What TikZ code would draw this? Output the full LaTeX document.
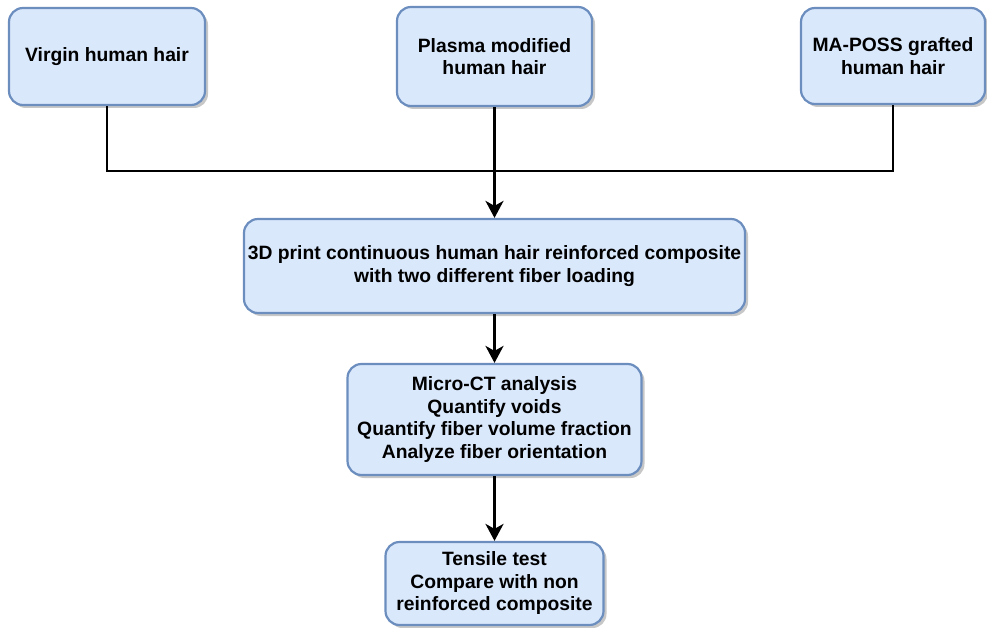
\documentclass[tikz,border=0pt]{standalone}
\usepackage{fontspec}
\setmainfont{Liberation Sans}
\usetikzlibrary{arrows.meta,shadows}

\definecolor{boxfill}{HTML}{DAE8FC}
\definecolor{boxline}{HTML}{6C8EBF}

\tikzset{
  stepbox/.style={
    draw=boxline, fill=boxfill, line width=2.2pt,
    rounded corners=14pt, align=center, inner sep=0pt,
    font=\fontsize{19.3}{22.5}\selectfont\bfseries,
    drop shadow={shadow xshift=3pt, shadow yshift=-3pt,
                 fill=black, opacity=0.22}
  },
  link/.style={draw=black, line width=2.6pt},
  flow/.style={link, -{Stealth[length=17pt,width=18pt,inset=5pt]}}
}

\begin{document}
\begin{tikzpicture}[x=1pt,y=-1pt]
  \useasboundingbox (0,0) rectangle (987,628);

  % the three hair treatments
  \node[stepbox, minimum width=196pt, minimum height=97pt]
    (virgin) at (107,56.5) {Virgin human hair};
  \node[stepbox, minimum width=195pt, minimum height=99pt]
    (plasma) at (494.5,56.5) {Plasma modified\\human hair};
  \node[stepbox, minimum width=184pt, minimum height=96pt]
    (poss) at (893,56) {MA-POSS grafted\\human hair};

  % processing and testing steps
  \node[stepbox, minimum width=501pt, minimum height=94pt]
    (print) at (494.5,266) {3D print continuous human hair reinforced composite\\with two different fiber loading};
  \node[stepbox, minimum width=294pt, minimum height=111pt]
    (ct) at (494.5,419.5) {Micro-CT analysis\\Quantify voids\\Quantify fiber volume fraction\\Analyze fiber orientation};
  \node[stepbox, minimum width=218pt, minimum height=83pt]
    (tensile) at (494.5,583.5) {Tensile test\\ Compare with non\\reinforced composite};

  % merge point of the three branches
  \coordinate (join) at (494.5,171);

  \draw[link] (virgin.south) |- (join);
  \draw[link] (poss.south) |- (join);
  \draw[flow] (plasma.south) -- (print.north);
  \draw[flow] (print.south) -- (ct.north);
  \draw[flow] (ct.south) -- (tensile.north);
\end{tikzpicture}
\end{document}
